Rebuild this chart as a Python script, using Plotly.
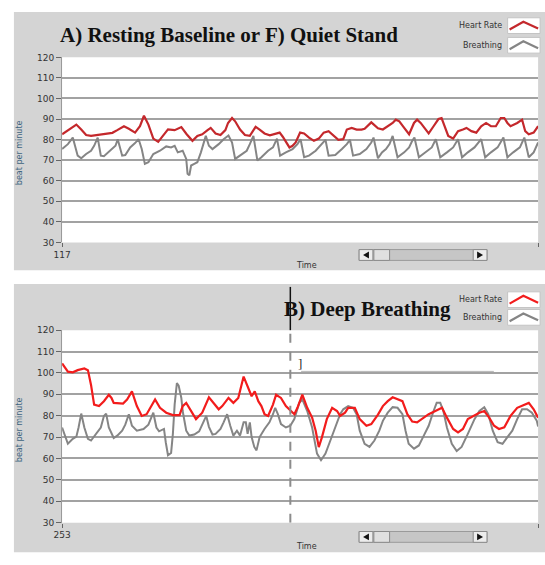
import plotly.graph_objects as go

# ---------------- data ----------------
# Panel A: resting baseline / quiet stand (time in s, beats per minute)
hr_a_t = [117.0, 118.7, 120.2, 121.3, 122.4, 123.5, 124.6, 125.7, 127.2, 128.3, 129.4, 130.9, 132.0, 133.4,
          134.5, 135.4, 136.4, 137.5, 138.6, 139.7, 140.8, 142.3, 143.8, 145.0, 146.3, 147.4, 148.5, 149.7,
          150.4, 151.5, 152.6, 153.7, 154.3, 155.2, 155.9, 157.0, 158.1, 159.2, 160.0, 160.5, 161.4, 162.5,
          163.7, 164.8, 165.9, 166.6, 167.3, 168.1, 168.8, 169.5, 170.5, 171.4, 172.5, 173.6, 174.7, 175.8,
          176.9, 178.0, 179.1, 180.2, 181.0, 182.1, 183.2, 184.3, 185.0, 186.5, 188.0, 189.1, 190.2, 191.3,
          192.0, 192.8, 193.9, 195.0, 196.1, 196.8, 197.6, 198.7, 199.4, 200.5, 201.6, 202.3, 203.1, 203.8,
          204.9, 206.0, 207.1, 207.9, 209.0, 210.1, 211.2, 212.3, 213.4, 214.5, 215.6, 216.4, 217.1, 217.8,
          219.3, 220.4, 221.1, 221.9, 223.0, 224.0]
hr_a = [82.6, 85.3, 87.3, 84.9, 82.2, 81.8, 82.1, 82.6, 83.0, 83.3, 84.6, 86.5, 85.3, 83.4,
        86.5, 91.6, 87.3, 80.5, 78.9, 81.8, 85.0, 84.6, 86.1, 82.6, 79.4, 81.8, 82.6, 84.6,
        85.7, 83.0, 82.2, 84.6, 88.1, 90.5, 88.9, 84.9, 82.2, 81.8, 84.9, 86.2, 84.9, 83.0,
        82.1, 82.6, 83.4, 81.4, 78.9, 76.2, 77.0, 78.6, 83.4, 83.0, 81.0, 79.4, 80.5, 83.4,
        84.1, 81.8, 79.9, 80.2, 84.9, 85.7, 84.9, 84.9, 85.3, 88.4, 85.5, 84.9, 86.5, 88.1,
        89.7, 88.9, 85.7, 82.6, 88.1, 89.7, 88.1, 84.9, 83.0, 86.5, 90.0, 90.5, 85.7, 81.8,
        80.5, 84.1, 84.9, 85.7, 84.1, 83.4, 86.5, 88.1, 86.5, 86.5, 90.5, 90.5, 88.1, 86.5,
        88.1, 89.7, 84.1, 82.6, 83.4, 86.5]

br_a_t = [117.0, 118.3, 119.4, 120.5, 121.3, 122.4, 123.5, 124.2, 125.0, 125.7, 126.4, 127.9, 129.0, 129.5,
          130.5, 131.2, 132.3, 133.4, 134.2, 134.9, 135.6, 136.4, 137.5, 139.0, 140.4, 141.5, 142.3, 143.0,
          144.1, 144.9, 145.2, 145.6, 146.0, 146.7, 147.4, 148.2, 148.9, 149.3, 150.0, 150.8, 152.2, 153.3,
          154.4, 155.2, 155.9, 157.0, 158.5, 159.2, 160.0, 160.9, 161.8, 163.3, 164.4, 165.3, 166.0, 167.3,
          168.8, 169.9, 170.6, 171.4, 172.5, 174.0, 175.1, 176.2, 176.9, 178.4, 179.9, 181.0, 181.7, 182.4,
          183.9, 185.4, 186.5, 187.0, 188.0, 188.9, 189.8, 190.6, 191.3, 192.4, 193.9, 195.0, 195.7, 196.2,
          197.2, 198.7, 200.1, 201.0, 202.0, 203.5, 204.9, 206.0, 206.9, 208.2, 209.7, 211.2, 212.1, 213.4,
          214.9, 216.2, 217.1, 218.4, 219.9, 220.9, 221.9, 223.0, 224.0]
br_a = [75.4, 77.8, 81.0, 72.2, 70.9, 73.0, 74.6, 77.0, 81.0, 72.2, 71.9, 74.6, 77.0, 80.2,
        72.2, 72.5, 76.2, 78.3, 80.2, 75.4, 68.2, 69.0, 73.0, 74.6, 76.7, 76.2, 77.0, 73.8,
        74.6, 70.6, 63.4, 62.6, 67.4, 68.2, 69.0, 73.8, 79.4, 81.8, 77.0, 75.4, 77.8, 80.2,
        82.0, 78.6, 70.6, 72.2, 74.6, 77.8, 81.8, 69.8, 71.4, 74.6, 76.2, 80.5, 72.2, 73.8,
        75.4, 77.8, 80.2, 71.4, 72.2, 74.6, 77.0, 79.9, 72.2, 72.5, 75.4, 77.8, 79.9, 72.2,
        73.0, 75.4, 78.6, 81.0, 70.9, 73.8, 75.4, 77.8, 81.8, 71.4, 73.8, 76.2, 79.4, 81.0,
        71.4, 73.8, 76.2, 80.2, 71.4, 73.8, 76.2, 80.2, 71.4, 73.8, 76.2, 80.2, 71.4, 73.8,
        76.2, 81.0, 71.4, 73.8, 76.2, 81.0, 71.4, 73.8, 78.6]

# Panel B: deep breathing
hr_b_t = [253.0, 254.3, 255.4, 256.5, 258.0, 258.8, 259.5, 260.2, 261.3, 262.4, 263.5, 264.1, 264.6, 265.8,
          266.7, 267.6, 268.7, 269.8, 270.9, 272.0, 273.1, 273.9, 275.0, 276.4, 277.9, 279.4, 280.1, 280.9,
          283.1, 284.5, 286.0, 287.1, 288.2, 289.0, 290.4, 291.5, 292.6, 293.8, 294.5, 295.6, 296.3, 297.1,
          297.8, 298.5, 299.3, 300.4, 301.1, 302.2, 303.3, 304.1, 305.2, 305.9, 307.0, 308.1, 309.2, 310.0,
          310.7, 311.4, 312.5, 313.7, 314.8, 315.5, 316.6, 317.3, 318.8, 319.9, 321.4, 322.5, 324.0, 325.1,
          326.2, 327.3, 328.4, 329.5, 330.6, 331.7, 332.8, 333.9, 335.4, 336.9, 338.4, 339.5, 340.9, 342.0,
          343.1, 344.2, 345.4, 346.8, 347.9, 349.0, 350.1, 351.2, 352.4, 353.8, 355.3, 356.8, 357.9, 359.0,
          360.0]
hr_b = [104.4, 100.6, 100.3, 101.3, 102.1, 101.3, 94.4, 85.2, 84.5, 86.8, 89.8, 88.3, 86.0, 86.0,
        85.7, 87.6, 91.4, 84.5, 79.9, 80.7, 84.5, 87.6, 83.7, 81.4, 80.3, 80.3, 84.5, 86.0,
        78.4, 81.4, 88.6, 86.0, 83.0, 84.5, 88.3, 86.0, 88.3, 98.3, 94.4, 89.1, 91.4, 86.8,
        84.5, 80.7, 79.9, 85.2, 89.8, 88.3, 84.5, 83.0, 80.7, 83.7, 89.8, 83.7, 79.1, 73.0,
        65.3, 69.9, 78.4, 83.7, 82.2, 79.9, 81.4, 83.7, 83.7, 78.4, 75.3, 76.1, 80.5, 84.5,
        86.8, 88.6, 87.6, 86.8, 80.7, 77.3, 76.9, 78.4, 80.7, 82.2, 83.7, 79.1, 73.8, 72.2,
        73.8, 78.4, 79.9, 81.4, 82.2, 79.1, 75.3, 73.8, 74.6, 79.9, 83.7, 85.0, 86.0, 83.0,
        79.1]

br_b_t = [253.0, 254.3, 255.4, 256.2, 256.7, 257.3, 258.0, 258.8, 259.5, 260.6, 261.7, 262.4, 262.9, 263.5,
          264.6, 265.4, 266.5, 267.2, 268.0, 268.7, 269.8, 271.3, 272.4, 273.5, 274.2, 274.8, 275.3, 275.9,
          276.3, 276.8, 277.5, 277.9, 278.3, 278.8, 279.2, 279.8, 280.1, 280.9, 281.6, 282.7, 283.8, 284.9,
          285.4, 286.0, 286.8, 287.5, 288.6, 289.3, 290.1, 290.8, 291.5, 292.3, 293.0, 293.8, 294.3, 294.7,
          295.2, 295.6, 296.2, 296.7, 297.4, 298.5, 299.6, 300.4, 300.9, 301.5, 302.2, 303.3, 304.3, 305.2,
          306.3, 307.0, 308.1, 309.2, 310.3, 311.2, 312.2, 313.3, 314.4, 315.5, 316.2, 317.3, 318.4, 319.2,
          319.9, 321.0, 322.1, 323.2, 324.3, 325.1, 326.2, 327.3, 328.4, 329.5, 330.2, 330.9, 332.1, 333.2,
          334.3, 335.4, 336.5, 337.2, 338.0, 338.7, 339.5, 340.6, 341.7, 342.8, 344.2, 345.7, 346.8, 347.9,
          348.8, 349.8, 350.9, 352.0, 353.1, 354.2, 355.3, 356.4, 357.5, 358.6, 359.7, 360.0]
br_b = [74.5, 66.9, 69.2, 70.2, 74.5, 81.0, 74.5, 69.2, 68.4, 71.2, 74.5, 79.9, 81.0, 74.5,
        69.6, 70.7, 73.0, 75.8, 80.7, 75.3, 73.0, 73.8, 75.8, 81.4, 74.5, 72.7, 73.3, 73.8,
        67.6, 61.5, 62.6, 71.5, 85.3, 95.2, 94.1, 88.3, 82.2, 73.0, 70.7, 71.2, 72.7, 77.6,
        79.9, 74.8, 71.2, 71.5, 73.8, 76.9, 80.7, 75.3, 70.7, 73.0, 70.7, 76.9, 76.9, 71.5,
        76.9, 70.0, 65.4, 63.8, 70.0, 73.8, 76.9, 80.7, 83.7, 80.7, 76.1, 74.5, 75.3, 78.4,
        86.0, 87.6, 82.2, 74.5, 62.3, 59.2, 62.3, 68.4, 74.5, 80.7, 83.0, 84.5, 83.7, 80.7,
        73.0, 66.9, 65.4, 68.4, 73.0, 77.6, 81.4, 84.0, 83.7, 80.7, 73.0, 66.9, 64.6, 66.1,
        70.7, 75.3, 82.2, 86.0, 86.0, 82.2, 74.5, 66.9, 63.5, 65.4, 71.5, 78.4, 82.2, 84.0,
        80.7, 73.0, 67.6, 66.9, 70.0, 73.0, 78.4, 83.0, 83.0, 81.4, 77.6, 75.0]

# axis settings
y_ticks = [30, 40, 50, 60, 70, 80, 90, 100, 110, 120]
x_range_a = [117, 224]
x_range_b = [253, 360]
cursor_t = 304.3          # dashed marker in panel B

titles = ["A) Resting Baseline or F) Quiet Stand", "B) Deep Breathing"]
series_names = ["Heart Rate", "Breathing"]

# ---------------- styling ----------------
W, H = 545, 565
RED_A = "#c4282c"
RED_B = "#f21c1c"
GREY_LINE = "#858585"
PANEL_BG = "#d4d4d4"
GRID = "#a2a2a2"
TICKFONT = dict(family="DejaVu Sans", size=9, color="#333333")


def fx(x):
    return x / W


def fy(y):
    return 1 - y / H


def label(text, x, y, size=8, family="DejaVu Sans", color="#333333", xanchor="center", angle=0):
    return dict(text=text, x=fx(x), y=fy(y), xref="paper", yref="paper", xanchor=xanchor,
                yanchor="middle", textangle=angle, showarrow=False,
                font=dict(family=family, size=size, color=color))


fig = go.Figure()

fig.add_trace(go.Scatter(x=hr_a_t, y=hr_a, mode="lines", line=dict(color=RED_A, width=2.2),
                         xaxis="x", yaxis="y", showlegend=False))
fig.add_trace(go.Scatter(x=br_a_t, y=br_a, mode="lines", line=dict(color=GREY_LINE, width=2),
                         xaxis="x", yaxis="y", showlegend=False))
fig.add_trace(go.Scatter(x=br_b_t, y=br_b, mode="lines", line=dict(color=GREY_LINE, width=2),
                         xaxis="x2", yaxis="y2", showlegend=False))
fig.add_trace(go.Scatter(x=hr_b_t, y=hr_b, mode="lines", line=dict(color=RED_B, width=2.2),
                         xaxis="x2", yaxis="y2", showlegend=False))

xdom = [fx(54), fx(538)]
ydom_a = [fy(241.7), fy(53.3)]
ydom_b = [fy(527), fy(331)]

yaxis_common = dict(range=[30, 120], tickvals=y_ticks, showgrid=True, gridcolor=GRID, gridwidth=1.5,
                    ticks="outside", ticklen=5, tickwidth=1, tickcolor="#666666", tickfont=TICKFONT,
                    showline=True, linecolor="#9a9a9a", linewidth=1, zeroline=False, fixedrange=True)
xaxis_common = dict(showgrid=False, ticks="outside", ticklen=4, tickcolor="#666666", tickfont=TICKFONT,
                    showline=False, zeroline=False, fixedrange=True)

shapes = []
annotations = []

# grey panel frames and white plotting areas
for top, bottom, yd in [(7, 270, ydom_a), (284, 557, ydom_b)]:
    shapes.append(dict(type="rect", xref="paper", yref="paper", x0=fx(5), x1=1.0, y0=fy(bottom), y1=fy(top),
                       fillcolor=PANEL_BG, line=dict(width=0), layer="below"))
    shapes.append(dict(type="rect", xref="paper", yref="paper", x0=xdom[0], x1=xdom[1], y0=yd[0], y1=yd[1],
                       fillcolor="white", line=dict(width=0), layer="below"))

# titles
annotations.append(label("<b>" + titles[0] + "</b>", 224, 31, size=21, family="Liberation Serif", color="#111111"))
annotations.append(label("<b>" + titles[1] + "</b>", 365, 309, size=21, family="Liberation Serif", color="#111111"))

# legends drawn as labelled chevron swatches
for (hr_y, br_y, red) in [(21, 41, RED_A), (300, 318, RED_B)]:
    for name, cy, col in [(series_names[0], hr_y, red), (series_names[1], br_y, GREY_LINE)]:
        annotations.append(label(name, 503, cy, xanchor="right"))
        shapes.append(dict(type="rect", xref="paper", yref="paper", x0=fx(507), x1=fx(540),
                           y0=fy(cy + 8), y1=fy(cy - 8), fillcolor="white", line=dict(color="#c4c4c4", width=1)))
        shapes.append(dict(type="path", xref="paper", yref="paper",
                           path=f"M {fx(509)},{fy(cy + 4)} L {fx(523)},{fy(cy - 4)} L {fx(538)},{fy(cy + 3)}",
                           line=dict(color=col, width=2.2)))

# y-axis titles, "Time" labels, scrollbars
for yc, t_y, sb_top in [(150, 265, 249), (432, 551, 536)]:
    annotations.append(label("beat per minute", 11, yc, color="#3d6480", angle=-90))
    annotations.append(label("Time", 302, t_y))
    sb_bot = sb_top + 11
    shapes.append(dict(type="rect", xref="paper", yref="paper", x0=fx(356), x1=fx(486), y0=fy(sb_bot),
                       y1=fy(sb_top), fillcolor="#c6c6c6", line=dict(color="#9a9a9a", width=1)))
    shapes.append(dict(type="rect", xref="paper", yref="paper", x0=fx(356), x1=fx(370), y0=fy(sb_bot),
                       y1=fy(sb_top), fillcolor="#ececec", line=dict(color="#8a8a8a", width=1)))
    shapes.append(dict(type="rect", xref="paper", yref="paper", x0=fx(371), x1=fx(387), y0=fy(sb_bot),
                       y1=fy(sb_top), fillcolor="#e0e0e0", line=dict(color="#8a8a8a", width=1)))
    shapes.append(dict(type="rect", xref="paper", yref="paper", x0=fx(472), x1=fx(486), y0=fy(sb_bot),
                       y1=fy(sb_top), fillcolor="#ececec", line=dict(color="#8a8a8a", width=1)))
    my = sb_top + 5.5
    shapes.append(dict(type="path", xref="paper", yref="paper",
                       path=f"M {fx(360)},{fy(my)} L {fx(366)},{fy(my - 3.5)} L {fx(366)},{fy(my + 3.5)} Z",
                       fillcolor="#111111", line=dict(width=0)))
    shapes.append(dict(type="path", xref="paper", yref="paper",
                       path=f"M {fx(482)},{fy(my)} L {fx(476)},{fy(my - 3.5)} L {fx(476)},{fy(my + 3.5)} Z",
                       fillcolor="#111111", line=dict(width=0)))

# cursor marker in panel B
shapes.append(dict(type="line", xref="x2", yref="y2", x0=cursor_t, x1=cursor_t, y0=30, y1=120,
                   line=dict(color="#8c8c8c", width=2, dash="dash")))
shapes.append(dict(type="line", xref="x2", yref="paper", x0=cursor_t, x1=cursor_t, y0=fy(331), y1=fy(287),
                   line=dict(color="#111111", width=1.5)))
shapes.append(dict(type="line", xref="paper", yref="paper", x0=fx(297), x1=fx(493), y0=fy(373), y1=fy(373),
                   line=dict(color="#b4b4b4", width=1)))
annotations.append(label("]", 296, 365, size=13, family="Liberation Serif", color="#222222"))

fig.update_layout(
    width=W, height=H, margin=dict(l=0, r=0, t=0, b=0),
    paper_bgcolor="white", plot_bgcolor="rgba(0,0,0,0)",
    showlegend=False,
    xaxis=dict(domain=xdom, anchor="y", range=x_range_a, tickvals=x_range_a, **xaxis_common),
    yaxis=dict(domain=ydom_a, anchor="x", **yaxis_common),
    xaxis2=dict(domain=xdom, anchor="y2", range=x_range_b, tickvals=x_range_b, **xaxis_common),
    yaxis2=dict(domain=ydom_b, anchor="x2", **yaxis_common),
    shapes=shapes, annotations=annotations,
)

fig.write_html("out.html")
